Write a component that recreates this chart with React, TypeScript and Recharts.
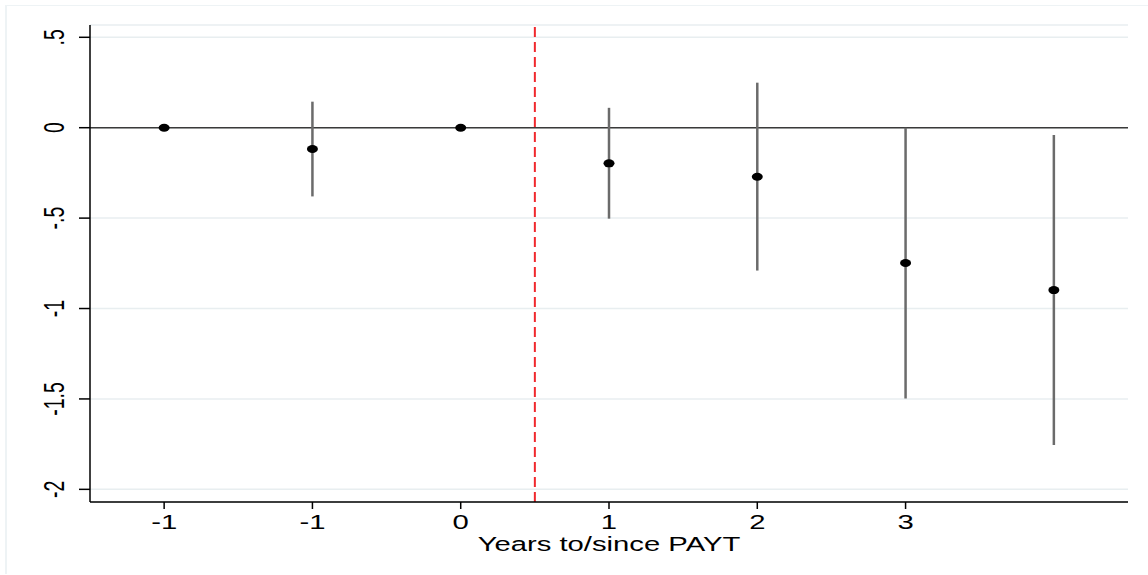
import { CartesianGrid, ComposedChart, ErrorBar, ReferenceLine, Scatter, XAxis, YAxis } from 'recharts';

// event-time slots, left to right
const periods = [0, 1, 2, 3, 4, 5, 6];
const periodLabels = ['-1', '-1', '0', '1', '2', '3', ''];
const coef = [0, -0.118, 0, -0.197, -0.271, -0.748, -0.898];
const ciLow = [0, -0.38, 0, -0.503, -0.79, -1.497, -1.755];
const ciHigh = [0, 0.144, 0, 0.11, 0.249, 0, -0.04];
const yTicks = [-2, -1.5, -1, -0.5, 0, 0.5];
const xTicks = [0, 1, 2, 3, 4, 5];
// treatment starts between slot "0" and slot "1"
const cutoff = 2.5;

const FONT = '"Liberation Sans", Arial, Helvetica, sans-serif';
const STRETCH = 1.5;

const data = periods.map((p, i) => ({
  pos: p,
  coef: coef[i],
  err: [coef[i] - ciLow[i], ciHigh[i] - coef[i]],
}));

function stataNum(v: number) {
  if (v === 0) return '0';
  const s = String(v);
  return s.replace(/^(-?)0\./, '$1.');
}

function YTick(props: any) {
  const { y, payload } = props;
  return (
    <g transform={`translate(64,${y})`}>
      <text transform={`scale(${STRETCH},1) rotate(-90)`} textAnchor="middle" fontSize={19.5} fontFamily={FONT} fill="#000">
        {stataNum(payload.value)}
      </text>
    </g>
  );
}

function XTick(props: any) {
  const { x, payload } = props;
  return (
    <g transform={`translate(${x},529)`}>
      <text transform={`scale(${STRETCH},1)`} textAnchor="middle" fontSize={19.5} fontFamily={FONT} fill="#000">
        {periodLabels[payload.value] ?? ''}
      </text>
    </g>
  );
}

function XTitle(props: any) {
  const { viewBox } = props;
  const cx = viewBox.x + viewBox.width / 2;
  return (
    <g transform={`translate(${cx},${viewBox.y + 49})`}>
      <text transform={`scale(${STRETCH},1)`} textAnchor="middle" fontSize={19.5} fontFamily={FONT} fill="#000">
        Years to/since PAYT
      </text>
    </g>
  );
}

function Dot(props: any) {
  const { cx, cy } = props;
  if (cx == null || cy == null) return null;
  return <ellipse cx={cx} cy={cy} rx={5.5} ry={4} fill="#000" />;
}

export default function App() {
  return (
    <div style={{ position: 'absolute', left: 0, top: 0, width: 1148, height: 575, background: '#fff' }}>
      <div
        style={{
          position: 'absolute',
          left: 5,
          top: 5,
          width: 1143,
          height: 568,
          borderLeft: '2.5px solid #eef3f5',
          borderTop: '1.5px solid #eef3f5',
        }}
      />
      <div style={{ position: 'absolute', left: 0, top: 0 }}>
        <ComposedChart width={1148} height={575} data={data} margin={{ top: 25, right: 20, bottom: 0, left: 0 }}>
          <CartesianGrid horizontal vertical={false} stroke="#e8eef0" strokeWidth={1.5} />
          <XAxis
            dataKey="pos"
            type="number"
            domain={[-0.5, 6.5]}
            ticks={xTicks}
            height={73}
            axisLine={{ stroke: '#000', strokeWidth: 1.5 }}
            tickLine={{ stroke: '#000', strokeWidth: 1.5 }}
            tickSize={7}
            tick={<XTick />}
            label={<XTitle />}
            interval={0}
          />
          <YAxis
            type="number"
            domain={[-2.07, 0.568]}
            ticks={yTicks}
            width={90}
            allowDataOverflow
            axisLine={{ stroke: '#000', strokeWidth: 1.5 }}
            tickLine={{ stroke: '#000', strokeWidth: 1.5 }}
            tickSize={11}
            tick={<YTick />}
            interval={0}
          />
          <ReferenceLine y={0} stroke="#3a3a3a" strokeWidth={1.5} />
          <ReferenceLine x={cutoff} stroke="#f0282d" strokeWidth={2} strokeDasharray="10 5" />
          <Scatter dataKey="coef" fill="#000" shape={<Dot />} isAnimationActive={false}>
            <ErrorBar dataKey="err" direction="y" width={0} stroke="#6b6b6b" strokeWidth={2.5} />
          </Scatter>
        </ComposedChart>
      </div>
    </div>
  );
}
